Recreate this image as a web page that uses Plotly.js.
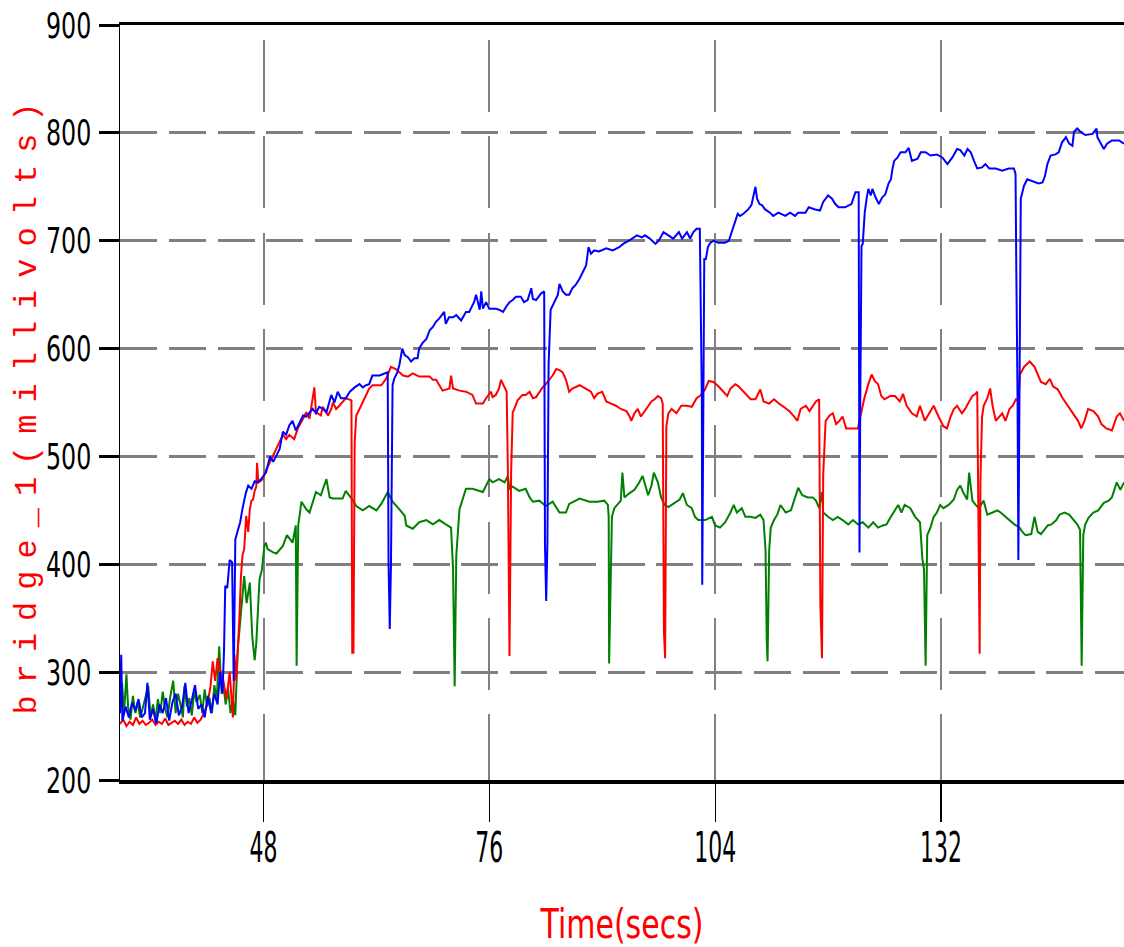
<!DOCTYPE html>
<html>
<head>
<meta charset="utf-8">
<script src="https://cdn.plot.ly/plotly-3.0.1.min.js"></script>
<style>
  html, body { margin: 0; padding: 0; background: #ffffff; }
  #chart { width: 1124px; height: 947px; }
  .ytitle { letter-spacing: 12px; translate: 7px 0; }
  .ytick text { transform-box: fill-box; transform-origin: right center; scale: 0.66 1; }
  .xtick text { transform-box: fill-box; transform-origin: center center; scale: 1 1.9; }
  .xtitle { transform-box: fill-box; transform-origin: center center; scale: 1 1.35; }
</style>
</head>
<body>
<div id="chart"></div>
<script>
// ---- Data ----
const xTickVals = [48, 76, 104, 132];
const xTickText = ["48", "76", "104", "132"];
const yTickVals = [200, 300, 400, 500, 600, 700, 800, 900];
const yTickText = ["200", "300", "400", "500", "600", "700", "800", "900"];

const blueTime = [
  30.2, 30.35, 30.5, 30.9, 31.3, 31.7, 32.1, 32.5, 32.9, 33.3,
  33.6, 33.9, 34.3, 34.7, 35.1, 35.5, 35.9, 36.3, 36.7, 37.1,
  37.5, 37.9, 38.3, 38.7, 39.1, 39.5, 39.9, 40.3, 40.7, 41.1,
  41.5, 41.9, 42.3, 42.6, 42.9, 43.1, 43.25, 43.5, 43.8, 44.1,
  44.3, 44.5, 44.8, 45.1, 45.4, 45.8, 46.1, 46.5, 46.9, 47.3,
  47.7, 48.3, 48.8, 49.2, 49.6, 50.0, 50.4, 50.8, 51.2, 51.6,
  52.0, 52.5, 52.9, 53.3, 54.1, 54.5, 54.9, 55.4, 55.8, 56.4,
  56.8, 57.2, 57.6, 58.2, 58.7, 59.3, 59.9, 60.3, 60.7, 61.1,
  61.5, 62.4, 63.0, 63.4, 63.5, 63.65, 63.8, 64.0, 64.2, 64.6,
  64.85, 65.2, 65.5, 65.9, 66.3, 66.7, 67.1, 67.3, 67.7, 68.2,
  68.6, 69.0, 69.4, 69.8, 70.4, 70.6, 71.0, 71.5, 71.9, 72.5,
  73.1, 73.5, 74.1, 74.35, 74.8, 75.0, 75.2, 75.6, 76.0, 76.8,
  77.2, 77.7, 78.1, 78.5, 78.9, 79.3, 79.9, 80.3, 80.75, 81.2,
  81.4, 81.8, 82.4, 82.8, 82.9, 83.05, 83.2, 83.35, 83.6, 84.1,
  84.5, 84.7, 85.1, 85.5, 85.9, 86.3, 86.7, 87.2, 87.6, 88.0,
  88.3, 88.6, 89.0, 89.6, 90.5, 91.3, 92.1, 92.6, 93.3, 93.7,
  94.3, 94.9, 95.3, 95.9, 96.6, 97.0, 97.6, 98.2, 98.8, 99.5,
  99.9, 100.5, 100.9, 101.3, 101.7, 102.1, 102.2, 102.35, 102.4, 102.5,
  102.65, 102.85, 103.1, 103.4, 103.8, 104.4, 105.2, 105.7, 106.1, 106.5,
  106.8, 107.1, 107.5, 108.1, 108.5, 109.0, 109.2, 109.5, 109.8, 110.2,
  110.8, 111.2, 111.85, 112.7, 113.3, 113.9, 114.3, 115.2, 115.6, 116.4,
  117.0, 117.4, 118.0, 118.5, 118.9, 119.3, 120.1, 120.9, 121.4, 121.8,
  121.85, 121.9, 122.0, 122.15, 122.3, 122.55, 122.8, 123.0, 123.3, 123.5,
  123.9, 124.3, 124.7, 125.1, 125.5, 125.8, 126.0, 126.2, 126.6, 127.0,
  127.6, 128.0, 128.4, 129.1, 129.5, 130.1, 130.7, 131.5, 132.2, 132.8,
  133.4, 134.0, 134.4, 134.9, 135.3, 135.7, 136.1, 136.5, 137.1, 137.5,
  138.0, 138.8, 139.6, 140.4, 141.05, 141.25, 141.35, 141.5, 141.6, 141.7,
  141.8, 141.9, 142.1, 142.3, 142.7, 143.1, 143.7, 144.1, 144.6, 144.9,
  145.2, 145.6, 146.2, 146.6, 147.0, 147.5, 147.9, 148.3, 148.5, 148.9,
  149.3, 149.9, 150.8, 151.3, 151.4, 151.8, 152.2, 152.6, 153.2, 154.1,
  154.7
];
const blueMv = [
  262, 316, 255, 268, 258, 272, 264, 275, 258, 262,
  290, 256, 266, 252, 270, 262, 276, 255, 272, 280,
  260, 268, 290, 262, 274, 288, 266, 270, 258, 278,
  262, 280, 270, 300, 280, 320, 380, 378, 404, 402,
  292, 423, 431, 439, 452, 466, 473, 470, 477, 476,
  479, 485, 500, 495, 501, 507, 523, 520, 529, 533,
  524, 532, 538, 537, 544, 540, 546, 544, 541, 557,
  550, 560, 554, 554, 560, 564, 567, 564, 566, 567,
  575, 575, 577, 578, 402, 340, 399, 566, 572, 578,
  585, 600, 594, 592, 588, 591, 591, 600, 605, 609,
  617, 620, 625, 628, 634, 623, 629, 629, 631, 626,
  634, 634, 643, 650, 636, 653, 637, 643, 637, 637,
  636, 634, 639, 643, 645, 648, 648, 643, 645, 656,
  646, 645, 651, 653, 417, 366, 420, 586, 636, 643,
  650, 660, 653, 650, 650, 656, 659, 665, 671, 677,
  694, 688, 691, 690, 693, 691, 694, 697, 700, 702,
  705, 703, 705, 702, 697, 700, 708, 705, 702, 708,
  702, 708, 702, 708, 711, 711, 654, 554, 381, 554,
  683, 683, 694, 698, 700, 698, 698, 700, 709, 717,
  725, 723, 725, 729, 733, 750, 739, 734, 733, 729,
  726, 723, 726, 723, 726, 723, 726, 726, 731, 729,
  728, 736, 742, 739, 734, 731, 731, 734, 745, 745,
  554, 411, 554, 695, 697, 726, 740, 748, 742, 748,
  740, 734, 740, 743, 753, 757, 767, 774, 777, 782,
  782, 786, 774, 776, 782, 782, 779, 780, 777, 771,
  777, 785, 784, 779, 785, 782, 774, 767, 768, 771,
  767, 767, 765, 767, 767, 762, 670, 554, 404, 554,
  674, 739, 745, 751, 757, 756, 754, 753, 754, 760,
  771, 779, 780, 782, 791, 796, 790, 788, 801, 804,
  801, 798, 799, 804, 796, 790, 785, 790, 793, 793,
  790
];

const redTime = [
  30.2, 30.6, 31.0, 31.4, 31.8, 32.2, 32.6, 33.0, 33.4, 33.8,
  34.2, 34.6, 35.0, 35.4, 35.8, 36.2, 36.6, 37.0, 37.4, 37.8,
  38.2, 38.6, 39.0, 39.4, 39.8, 40.2, 40.6, 41.0, 41.4, 41.7,
  42.0, 42.3, 42.6, 43.0, 43.4, 43.8, 44.2, 44.4, 44.6, 44.8,
  45.0, 45.2, 45.4, 45.6, 45.85, 46.1, 46.3, 46.5, 46.7, 46.9,
  47.1, 47.2, 47.35, 47.6, 47.9, 48.3, 48.7, 49.2, 49.6, 50.0,
  50.4, 50.8, 51.2, 51.8, 52.25, 52.9, 53.3, 53.7, 54.3, 54.5,
  55.1, 55.35, 56.0, 56.4, 56.6, 57.0, 57.4, 58.2, 58.9, 59.0,
  59.15, 59.3, 59.5, 59.9, 60.3, 60.7, 61.1, 61.5, 62.0, 62.6,
  63.2, 63.8, 64.4, 64.85, 65.3, 65.9, 66.5, 67.3, 68.6, 69.0,
  69.4, 70.2, 71.05, 71.25, 71.5, 72.3, 73.1, 73.9, 74.35, 75.2,
  75.6, 76.2, 76.4, 76.8, 77.2, 77.45, 77.9, 78.15, 78.3, 78.5,
  78.7, 78.9, 79.1, 79.5, 80.1, 80.5, 81.0, 81.4, 81.8, 82.2,
  82.6, 83.0, 83.4, 83.85, 84.3, 84.7, 85.1, 85.5, 85.9, 86.3,
  87.2, 88.0, 88.6, 89.0, 89.4, 90.0, 90.5, 91.1, 91.7, 92.3,
  93.0, 93.4, 93.6, 94.0, 94.4, 94.8, 95.25, 95.7, 96.1, 96.5,
  96.9, 97.3, 97.5, 97.65, 97.8, 97.95, 98.2, 98.6, 99.2, 99.8,
  100.5, 101.1, 101.7, 102.1, 102.75, 103.2, 103.8, 104.4, 105.0, 105.5,
  105.9, 106.5, 106.9, 107.3, 107.75, 108.4, 109.0, 109.6, 110.0, 110.7,
  111.3, 111.9, 112.5, 113.2, 113.8, 114.2, 114.6, 115.25, 115.7, 116.1,
  116.5, 116.9, 117.05, 117.25, 117.4, 117.7, 118.2, 118.6, 119.0, 119.4,
  119.8, 120.25, 121.1, 121.7, 121.9, 122.3, 122.5, 123.0, 123.4, 123.8,
  124.2, 124.6, 125.0, 125.7, 126.3, 126.9, 127.3, 127.75, 128.4, 129.0,
  129.4, 130.0, 130.5, 131.1, 131.7, 132.3, 132.75, 133.2, 133.6, 134.0,
  134.6, 135.0, 135.5, 135.9, 136.3, 136.5, 136.6, 136.8, 136.9, 137.1,
  137.3, 137.75, 138.1, 138.4, 138.8, 139.2, 139.6, 140.0, 140.5, 140.9,
  141.3, 141.6, 141.8, 142.3, 143.0, 143.6, 144.0, 144.4, 145.0, 145.5,
  145.9, 146.5, 147.1, 147.75, 148.4, 149.0, 149.4, 149.8, 150.25, 150.9,
  151.5, 151.9, 152.5, 153.2, 153.8, 154.2, 154.7
];
const redMv = [
  252, 256, 250, 254, 251, 258, 252, 255, 251, 253,
  256, 251, 254, 252, 257, 251, 253, 255, 252, 256,
  251, 254, 252, 258, 253, 256, 262, 270, 285, 310,
  292, 313, 300, 293, 275, 300, 258, 316, 292, 318,
  349, 389, 409, 414, 445, 430, 451, 459, 460, 468,
  472, 494, 476, 477, 479, 487, 493, 501, 507, 513,
  520, 516, 520, 516, 526, 535, 541, 535, 564, 541,
  538, 546, 538, 544, 550, 544, 547, 554, 552, 318,
  318, 513, 538, 544, 550, 557, 563, 566, 566, 566,
  572, 583, 581, 578, 575, 574, 577, 574, 574, 571,
  571, 561, 563, 575, 563, 561, 560, 557, 549, 549,
  554, 560, 555, 557, 563, 571, 563, 560, 485, 315,
  485, 541, 544, 552, 557, 557, 560, 554, 555, 560,
  564, 567, 571, 575, 581, 580, 578, 571, 560, 563,
  566, 563, 560, 554, 558, 560, 551, 549, 547, 544,
  542, 537, 533, 540, 544, 537, 542, 547, 551, 553,
  556, 554, 549, 338, 313, 528, 540, 544, 540, 547,
  547, 546, 554, 556, 562, 570, 569, 565, 560, 556,
  563, 567, 565, 562, 558, 553, 553, 562, 551, 549,
  553, 549, 546, 542, 537, 533, 544, 547, 542, 547,
  551, 553, 363, 313, 483, 533, 538, 540, 530, 533,
  537, 526, 526, 526, 533, 547, 554, 567, 576, 570,
  567, 556, 553, 556, 556, 551, 558, 547, 540, 537,
  547, 533, 540, 547, 537, 528, 526, 537, 544, 547,
  540, 544, 551, 556, 558, 560, 480, 317, 480, 537,
  547, 554, 563, 547, 533, 537, 540, 533, 544, 547,
  553, 551, 576, 583, 588, 583, 576, 569, 567, 572,
  565, 562, 554, 547, 540, 533, 526, 533, 544, 542,
  537, 530, 526, 524, 537, 540, 533
];

const greenTime = [
  30.2, 30.45, 30.7, 31.0, 31.2, 31.5, 31.8, 32.1, 32.4, 32.7,
  33.0, 33.3, 33.7, 34.0, 34.3, 34.6, 34.9, 35.2, 35.5, 35.8,
  36.1, 36.4, 36.8, 37.1, 37.4, 37.7, 38.0, 38.2, 38.5, 38.8,
  39.1, 39.4, 39.7, 40.1, 40.4, 40.7, 41.0, 41.3, 41.6, 41.9,
  42.2, 42.5, 42.8, 43.0, 43.3, 43.6, 43.9, 44.2, 44.5, 44.8,
  45.1, 45.4, 45.6, 45.9, 46.3, 46.6, 46.9, 47.1, 47.3, 47.5,
  47.8, 48.1, 48.3, 48.5, 49.2, 49.6, 50.4, 50.9, 51.6, 52.0,
  52.1, 52.3, 52.7, 53.3, 53.7, 54.5, 55.1, 55.8, 56.2, 56.6,
  57.8, 58.2, 59.1, 59.5, 60.3, 61.1, 62.0, 62.6, 63.4, 64.0,
  64.85, 65.5, 65.7, 66.5, 67.3, 68.2, 69.0, 69.8, 70.6, 71.25,
  71.5, 71.7, 71.9, 72.3, 73.1, 73.9, 75.2, 76.0, 76.4, 77.2,
  77.9, 78.3, 78.5, 78.9, 79.7, 80.5, 81.0, 81.4, 82.2, 83.0,
  83.85, 84.7, 85.5, 85.9, 87.2, 88.4, 89.4, 90.25, 90.7, 90.8,
  90.85, 90.95, 91.2, 91.5, 91.9, 92.3, 92.5, 92.75, 93.4, 94.0,
  94.6, 95.0, 95.7, 96.1, 96.4, 96.9, 97.3, 97.75, 98.2, 99.0,
  99.6, 100.0, 100.5, 101.1, 101.5, 101.9, 102.75, 103.6, 104.0, 104.6,
  105.25, 105.9, 106.3, 106.7, 107.3, 107.75, 108.4, 109.0, 109.6, 110.0,
  110.25, 110.4, 110.5, 110.7, 110.9, 111.3, 111.7, 112.1, 112.75, 113.4,
  113.8, 114.3, 114.8, 115.5, 116.1, 116.5, 116.9, 117.25, 117.4, 118.0,
  118.6, 119.2, 119.8, 120.5, 121.1, 121.7, 122.3, 123.0, 123.6, 124.2,
  124.8, 125.25, 125.7, 126.3, 126.7, 127.1, 127.5, 128.2, 128.8, 129.4,
  129.7, 129.9, 130.1, 130.3, 130.7, 131.1, 131.5, 131.9, 132.3, 132.95,
  133.6, 134.0, 134.4, 134.8, 135.25, 135.5, 135.9, 136.3, 136.7, 137.3,
  137.75, 138.4, 139.0, 139.4, 140.0, 140.5, 141.1, 141.75, 142.1, 142.5,
  143.2, 143.6, 144.0, 144.4, 144.8, 145.25, 145.7, 146.3, 146.7, 147.3,
  147.9, 148.5, 148.9, 149.25, 149.4, 149.45, 149.65, 149.9, 150.3, 150.9,
  151.5, 152.2, 152.8, 153.2, 153.8, 154.25, 154.7
];
const greenMv = [
  270, 290, 262, 298, 268, 256, 278, 262, 272, 258,
  266, 276, 287, 258, 270, 255, 275, 262, 282, 266,
  258, 276, 292, 262, 280, 270, 258, 287, 268, 276,
  260, 282, 272, 279, 262, 284, 268, 276, 262, 288,
  274, 324, 280, 290, 270, 285, 262, 275, 260, 321,
  349, 373, 389, 364, 383, 333, 311, 327, 352, 386,
  395, 417, 420, 414, 411, 410, 417, 427, 420, 436,
  306, 436, 458, 451, 448, 467, 464, 479, 462, 461,
  461, 468, 459, 454, 450, 454, 450, 456, 467, 458,
  451, 445, 436, 433, 439, 441, 437, 441, 437, 434,
  396, 287, 408, 451, 470, 470, 467, 479, 476, 479,
  476, 482, 470, 472, 468, 470, 462, 458, 459, 454,
  458, 448, 448, 456, 461, 458, 458, 459, 455, 444,
  308, 359, 444, 452, 455, 459, 485, 462, 466, 469,
  476, 482, 464, 473, 485, 476, 462, 455, 453, 457,
  460, 466, 455, 452, 444, 441, 441, 444, 436, 434,
  439, 448, 455, 448, 452, 444, 444, 443, 446, 441,
  413, 329, 310, 413, 434, 441, 446, 455, 448, 450,
  459, 471, 464, 462, 462, 459, 452, 467, 448, 444,
  441, 444, 441, 437, 441, 437, 439, 434, 439, 434,
  436, 437, 443, 450, 455, 448, 455, 452, 444, 439,
  405, 395, 306, 427, 434, 444, 448, 455, 452, 455,
  460, 469, 473, 466, 460, 485, 459, 455, 452, 459,
  446, 448, 450, 448, 444, 441, 437, 434, 430, 427,
  428, 444, 430, 428, 432, 436, 437, 441, 446, 448,
  446, 441, 437, 432, 331, 306, 427, 437, 443, 448,
  450, 457, 459, 462, 476, 469, 476
];

// ---- Chart ----
const tickFont = "DejaVu Sans, sans-serif";

const traces = [
  { x: greenTime, y: greenMv, type: "scatter", mode: "lines",
    line: { color: "#008000", width: 2 }, hoverinfo: "skip" },
  { x: redTime, y: redMv, type: "scatter", mode: "lines",
    line: { color: "#ff0000", width: 2 }, hoverinfo: "skip" },
  { x: blueTime, y: blueMv, type: "scatter", mode: "lines",
    line: { color: "#0000ff", width: 2 }, hoverinfo: "skip" }
];

const layout = {
  width: 1124,
  height: 947,
  margin: { l: 120, r: 0, t: 25, b: 167, pad: 0 },
  paper_bgcolor: "#ffffff",
  plot_bgcolor: "#ffffff",
  showlegend: false,
  xaxis: {
    range: [30.2, 154.7],
    tickmode: "array",
    tickvals: xTickVals,
    ticktext: xTickText,
    ticks: "outside",
    ticklen: 38,
    tickwidth: 1.2,
    tickcolor: "#000000",
    showline: true,
    linecolor: "#000000",
    linewidth: 3.5,
    mirror: true,
    showgrid: true,
    gridcolor: "#808080",
    gridwidth: 2,
    griddash: "0px,15px,72px,9.3px",
    zeroline: false,
    ticklabelstandoff: 4,
    tickfont: { family: tickFont, size: 22, color: "#000000" },
    title: { text: "Time(secs)", font: { family: tickFont, size: 30, color: "#ff0000" }, standoff: 58 }
  },
  yaxis: {
    range: [200, 900],
    tickmode: "array",
    tickvals: yTickVals,
    ticktext: yTickText,
    ticks: "outside",
    ticklen: 20,
    tickwidth: 3,
    tickcolor: "#000000",
    showline: true,
    linecolor: "#000000",
    linewidth: 1.5,
    showgrid: true,
    gridcolor: "#808080",
    gridwidth: 3,
    griddash: "37px,11.75px",
    zeroline: false,
    tickfont: { family: tickFont, size: 36, color: "#000000" },
    title: { text: "bridge_1(millivolts)", font: { family: "Liberation Mono, Courier New, monospace", size: 32, color: "#ff0000" }, standoff: 0 }
  }
};

Plotly.newPlot("chart", traces, layout, { staticPlot: true, displayModeBar: false });
</script>
</body>
</html>
